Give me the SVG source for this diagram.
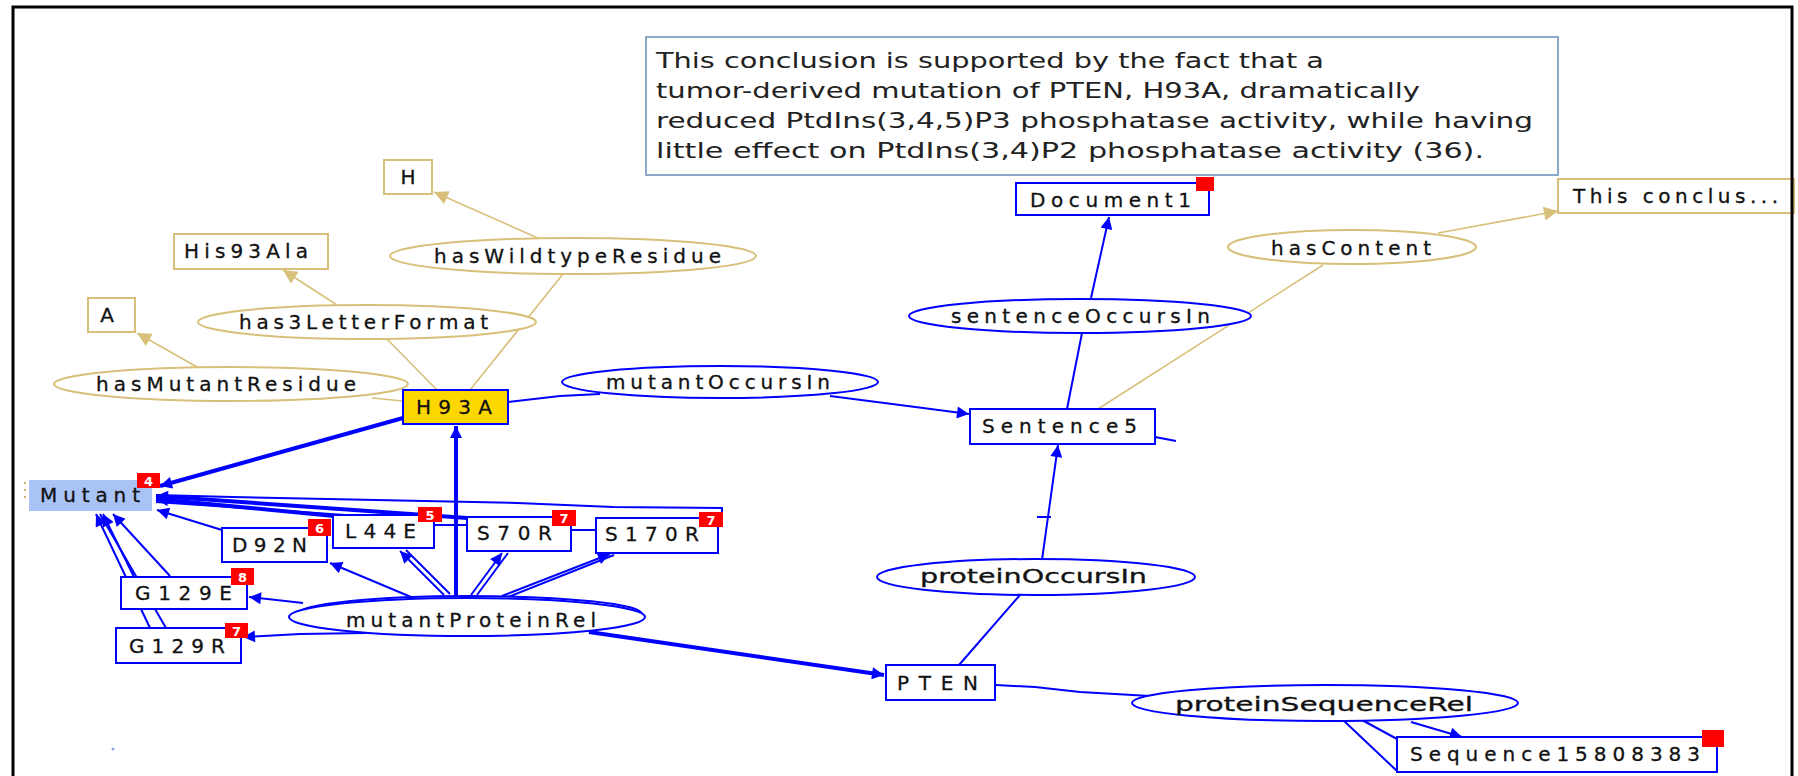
<svg xmlns="http://www.w3.org/2000/svg" width="1798" height="776" viewBox="0 0 1798 776">
  <defs>
    <marker id="abL" viewBox="0 0 10 10" refX="10" refY="5" markerWidth="16" markerHeight="12" markerUnits="userSpaceOnUse" orient="auto">
      <path d="M0,0 L10,5 L0,10 z" fill="#0000ff"/>
    </marker>
    <marker id="ag" viewBox="0 0 10 10" refX="10" refY="5" markerWidth="18" markerHeight="14" markerUnits="userSpaceOnUse" orient="auto">
      <path d="M0,0 L10,5 L0,10 z" fill="#d8c07a"/>
    </marker>
  </defs>
  <style>
    .lbl { font-family: "DejaVu Sans", "Liberation Sans", sans-serif; font-size: 20px; fill: #111; stroke: #111; stroke-width: 0.3; }
    .note { font-family: "DejaVu Sans", "Liberation Sans", sans-serif; font-size: 22px; fill: #222; }
    .gbox { fill: #fff; stroke: #d8c07a; stroke-width: 2; }
    .gell { fill: #fff; stroke: #d8c07a; stroke-width: 2; }
    .bbox { fill: #fff; stroke: #0000ff; stroke-width: 2; }
    .bell { fill: #fff; stroke: #0000ff; stroke-width: 2; }
    .ge { stroke: #d8c07a; stroke-width: 1.6; fill: none; }
    .be { stroke: #0000ff; stroke-width: 2; fill: none; }
    .bt { stroke: #0000ff; stroke-width: 4; fill: none; }
    .badge { fill: #ff0000; }
    .bnum { font-family: "DejaVu Sans", "Liberation Sans", sans-serif; font-size: 13px; font-weight: bold; fill: #fff; text-anchor: middle; }
  </style>

  <rect width="1798" height="776" fill="#fff"/>

  <!-- connectors -->
  <g id="connectors">
    <!-- gold: literal properties -->
    <line class="ge" x1="540" y1="239" x2="434" y2="192" marker-end="url(#ag)"/>
    <line class="ge" x1="470" y1="390" x2="563" y2="274"/>
    <line class="ge" x1="337" y1="305" x2="283" y2="270" marker-end="url(#ag)"/>
    <line class="ge" x1="437" y1="390" x2="387" y2="339"/>
    <line class="ge" x1="197" y1="367" x2="137" y2="333" marker-end="url(#ag)"/>
    <line class="ge" x1="372" y1="398" x2="403" y2="401"/>
    <line class="ge" x1="1098" y1="409" x2="1323" y2="265"/>
    <line class="ge" x1="1438" y1="233" x2="1558" y2="211" marker-end="url(#ag)"/>

    <!-- blue: object properties -->
    <polyline class="be" points="508,402 560,396 600,394"/>
    <polyline class="be" points="830,396 900,405 969,414" marker-end="url(#abL)"/>
    <line class="be" x1="1067" y1="409" x2="1082" y2="333"/>
    <line class="be" x1="1091" y1="298" x2="1109" y2="217" marker-end="url(#abL)"/>
    <line class="be" x1="959" y1="665" x2="1020" y2="595"/>
    <line class="be" x1="1042" y1="560" x2="1058" y2="445" marker-end="url(#abL)"/>
    <line class="be" x1="1037" y1="517" x2="1051" y2="517"/>
    <polyline class="be" points="996,685 1035,687 1080,692 1150,696"/>
    <line class="be" x1="1411" y1="722" x2="1462" y2="737" marker-end="url(#abL)"/>
    <line class="be" x1="1343" y1="720" x2="1397" y2="771"/>
    <line class="be" x1="1362" y1="720" x2="1397" y2="739"/>
    <line class="be" x1="1155" y1="437" x2="1176" y2="441"/>

    <line class="bt" x1="589" y1="632" x2="884" y2="675" marker-end="url(#abL)"/>
    <line class="bt" x1="403" y1="418" x2="160" y2="486" marker-end="url(#abL)"/>
    <line class="bt" x1="456" y1="597" x2="456" y2="426" marker-end="url(#abL)"/>

    <!-- mutantProteinRel to the mutant boxes -->
    <line class="be" x1="444" y1="595" x2="400" y2="551" marker-end="url(#abL)"/>
    <line class="be" x1="450" y1="594" x2="406" y2="550"/>
    <line class="be" x1="471" y1="595" x2="502" y2="553" marker-end="url(#abL)"/>
    <line class="be" x1="477" y1="595" x2="508" y2="553"/>
    <line class="be" x1="502" y1="596" x2="610" y2="554" marker-end="url(#abL)"/>
    <line class="be" x1="508" y1="597" x2="614" y2="555"/>
    <line class="be" x1="411" y1="597" x2="330" y2="563" marker-end="url(#abL)"/>
    <line class="be" x1="303" y1="603" x2="249" y2="597" marker-end="url(#abL)"/>
    <polyline class="be" points="366,633 300,634 243,637" marker-end="url(#abL)"/>

    <!-- mutant boxes to Mutant -->
    <line class="bt" x1="334" y1="516" x2="156" y2="499" marker-end="url(#abL)"/>
    <line class="bt" x1="467" y1="518" x2="156" y2="496" marker-end="url(#abL)"/>
    <line class="be" x1="418" y1="520" x2="156" y2="502"/>
    <polyline class="be" points="722,512 722,508 613,507 517,503 232,497 156,495"/>
    <line class="be" x1="222" y1="530" x2="157" y2="510" marker-end="url(#abL)"/>
    <line class="be" x1="134" y1="577" x2="103" y2="514" marker-end="url(#abL)"/>
    <line class="be" x1="170" y1="576" x2="113" y2="514" marker-end="url(#abL)"/>
    <line class="be" x1="150" y1="628" x2="96" y2="514" marker-end="url(#abL)"/>
    <line class="be" x1="166" y1="628" x2="100" y2="514"/>
    <line class="be" x1="435" y1="525" x2="467" y2="525"/>
    <line class="be" x1="571" y1="530" x2="596" y2="530"/>
  </g>

  <!-- note text shown for the selected sentence -->
  <g id="note">
    <rect x="646" y="37" width="912" height="138" fill="#fff" stroke="#8aa8c8" stroke-width="2"/>
    <text class="note" x="656" y="68" textLength="668" lengthAdjust="spacingAndGlyphs">This conclusion is supported by the fact that a</text>
    <text class="note" x="656" y="98" textLength="764" lengthAdjust="spacingAndGlyphs">tumor-derived mutation of PTEN, H93A, dramatically</text>
    <text class="note" x="656" y="128" textLength="877" lengthAdjust="spacingAndGlyphs">reduced PtdIns(3,4,5)P3 phosphatase activity, while having</text>
    <text class="note" x="656" y="158" textLength="828" lengthAdjust="spacingAndGlyphs">little effect on PtdIns(3,4)P2 phosphatase activity (36).</text>
  </g>

  <!-- literal nodes -->
  <g id="n-H"><rect class="gbox" x="384" y="160" width="48" height="34"/><text class="lbl" x="408" y="184" text-anchor="middle">H</text></g>
  <g id="n-His93Ala"><rect class="gbox" x="174" y="234" width="154" height="35"/><text class="lbl" x="184" y="258" textLength="124" lengthAdjust="spacing">His93Ala</text></g>
  <g id="n-A"><rect class="gbox" x="88" y="298" width="47" height="34"/><text class="lbl" x="107" y="322" text-anchor="middle">A</text></g>
  <g id="n-content"><rect class="gbox" x="1558" y="179" width="236" height="34"/><text class="lbl" x="1573" y="203" textLength="205" lengthAdjust="spacing">This conclus...</text></g>

  <!-- property nodes -->
  <g id="p-hasWildtypeResidue"><ellipse class="gell" cx="573" cy="256" rx="183" ry="18"/><text class="lbl" x="434" y="263" textLength="287" lengthAdjust="spacing">hasWildtypeResidue</text></g>
  <g id="p-has3LetterFormat"><ellipse class="gell" cx="367" cy="322" rx="169" ry="17"/><text class="lbl" x="239" y="329" textLength="249" lengthAdjust="spacing">has3LetterFormat</text></g>
  <g id="p-hasMutantResidue"><ellipse class="gell" cx="231" cy="384" rx="177" ry="17"/><text class="lbl" x="96" y="391" textLength="260" lengthAdjust="spacing">hasMutantResidue</text></g>
  <g id="p-hasContent"><ellipse class="gell" cx="1352" cy="247" rx="124" ry="17"/><text class="lbl" x="1271" y="255" textLength="160" lengthAdjust="spacing">hasContent</text></g>
  <g id="p-mutantOccursIn"><ellipse class="bell" cx="720" cy="382" rx="158" ry="16"/><text class="lbl" x="606" y="389" textLength="224" lengthAdjust="spacing">mutantOccursIn</text></g>
  <g id="p-sentenceOccursIn"><ellipse class="bell" cx="1080" cy="316" rx="171" ry="17"/><text class="lbl" x="951" y="323" textLength="259" lengthAdjust="spacing">sentenceOccursIn</text></g>
  <g id="p-proteinOccursIn"><ellipse class="bell" cx="1036" cy="577" rx="159" ry="18" stroke-dasharray="686 30"/><text class="lbl" x="920" y="583" textLength="227" lengthAdjust="spacingAndGlyphs">proteinOccursIn</text></g>
  <g id="p-proteinSequenceRel"><ellipse class="bell" cx="1325" cy="703" rx="193" ry="18"/><text class="lbl" x="1175" y="711" textLength="298" lengthAdjust="spacingAndGlyphs">proteinSequenceRel</text></g>
  <g id="p-mutantProteinRel">
    <ellipse class="bell" cx="470" cy="614" rx="172" ry="18"/>
    <ellipse class="bell" cx="467" cy="617" rx="178" ry="19"/>
    <text class="lbl" x="346" y="627" textLength="250" lengthAdjust="spacing">mutantProteinRel</text>
  </g>

  <!-- resource nodes -->
  <g id="n-H93A"><rect x="403" y="390" width="105" height="34" fill="#ffd700" stroke="#0000ff" stroke-width="2"/><text class="lbl" x="416" y="414" textLength="76" lengthAdjust="spacing">H93A</text></g>
  <g id="n-Mutant">
    <rect x="29" y="480" width="123" height="31" fill="#a9c3f7"/>
    <line x1="25" y1="482" x2="25" y2="502" stroke="#c8b070" stroke-width="2" stroke-dasharray="2 5"/>
    <text class="lbl" x="40" y="502" textLength="100" lengthAdjust="spacing">Mutant</text>
    <rect class="badge" x="137" y="473" width="23" height="15"/><text class="bnum" x="148.5" y="486">4</text>
  </g>
  <g id="n-L44E">
    <rect class="bbox" x="333" y="515" width="101" height="33"/><text class="lbl" x="345" y="538" textLength="71" lengthAdjust="spacing">L44E</text>
    <rect class="badge" x="418" y="507" width="24" height="15"/><text class="bnum" x="430" y="520">5</text>
  </g>
  <g id="n-S70R">
    <rect class="bbox" x="467" y="517" width="104" height="34"/><text class="lbl" x="477" y="540" textLength="75" lengthAdjust="spacing">S70R</text>
    <rect class="badge" x="552" y="510" width="24" height="16"/><text class="bnum" x="564" y="523">7</text>
  </g>
  <g id="n-S170R">
    <rect class="bbox" x="596" y="518" width="122" height="35"/><text class="lbl" x="605" y="541" textLength="94" lengthAdjust="spacing">S170R</text>
    <rect class="badge" x="699" y="512" width="24" height="15"/><text class="bnum" x="711" y="525">7</text>
  </g>
  <g id="n-D92N">
    <rect class="bbox" x="222" y="528" width="105" height="34"/><text class="lbl" x="232" y="552" textLength="75" lengthAdjust="spacing">D92N</text>
    <rect class="badge" x="308" y="519" width="23" height="17"/><text class="bnum" x="319.5" y="533">6</text>
  </g>
  <g id="n-G129E">
    <rect class="bbox" x="121" y="577" width="126" height="32"/><text class="lbl" x="135" y="600" textLength="97" lengthAdjust="spacing">G129E</text>
    <rect class="badge" x="231" y="568" width="23" height="17"/><text class="bnum" x="242.5" y="582">8</text>
  </g>
  <g id="n-G129R">
    <rect class="bbox" x="116" y="628" width="125" height="35"/><text class="lbl" x="129" y="653" textLength="96" lengthAdjust="spacing">G129R</text>
    <rect class="badge" x="225" y="623" width="23" height="15"/><text class="bnum" x="236.5" y="636">7</text>
  </g>
  <g id="n-Sentence5"><rect class="bbox" x="970" y="409" width="185" height="35"/><text class="lbl" x="982" y="433" textLength="155" lengthAdjust="spacing">Sentence5</text></g>
  <g id="n-Document1">
    <rect class="bbox" x="1016" y="183" width="193" height="32"/><text class="lbl" x="1030" y="207" textLength="161" lengthAdjust="spacing">Document1</text>
    <rect class="badge" x="1196" y="177" width="18" height="14"/>
  </g>
  <g id="n-PTEN"><rect class="bbox" x="886" y="665" width="109" height="35"/><text class="lbl" x="897" y="690" textLength="81" lengthAdjust="spacing">PTEN</text></g>
  <g id="n-Sequence15808383">
    <rect class="bbox" x="1397" y="737" width="320" height="35"/><text class="lbl" x="1410" y="761" textLength="290" lengthAdjust="spacing">Sequence15808383</text>
    <rect class="badge" x="1702" y="730" width="22" height="17"/>
  </g>

  <circle cx="113" cy="749" r="1.5" fill="#8aa8f0"/>

  <!-- outer frame (open at the bottom) -->
  <path d="M13,776 L13,7 L1792,7 L1792,776" fill="none" stroke="#000" stroke-width="3"/>
</svg>
